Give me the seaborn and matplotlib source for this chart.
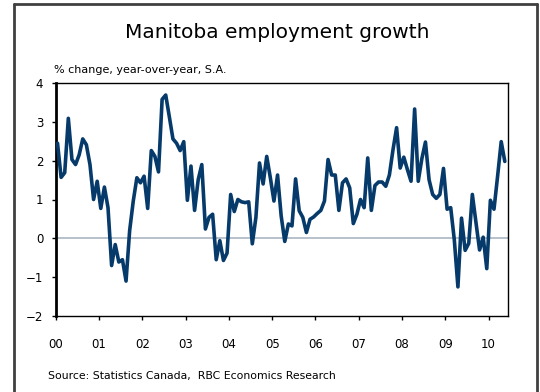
import numpy as np
import pandas as pd
import matplotlib
matplotlib.use("Agg")
import matplotlib.pyplot as plt
import seaborn as sns
from matplotlib.lines import Line2D

# Monthly year-over-year employment growth, Jan 2000 onward (%)
growth = [
    2.45, 1.57, 1.69, 3.09, 2.03, 1.90, 2.15, 2.56, 2.41, 1.90, 1.00, 1.47,
    0.77, 1.32, 0.79, -0.70, -0.16, -0.61, -0.55, -1.10, 0.20, 0.96, 1.56, 1.43,
    1.60, 0.77, 2.26, 2.11, 1.71, 3.58, 3.69, 3.13, 2.56, 2.45, 2.26, 2.49,
    0.98, 1.86, 0.72, 1.51, 1.90, 0.24, 0.54, 0.62, -0.55, -0.06, -0.57, -0.38,
    1.13, 0.69, 1.00, 0.94, 0.92, 0.94, -0.14, 0.54, 1.94, 1.40, 2.11, 1.56,
    0.96, 1.63, 0.58, -0.08, 0.37, 0.32, 1.53, 0.71, 0.54, 0.15, 0.49, 0.55,
    0.64, 0.72, 0.96, 2.03, 1.63, 1.63, 0.72, 1.43, 1.53, 1.30, 0.38, 0.62,
    1.00, 0.79, 2.07, 0.72, 1.36, 1.45, 1.45, 1.34, 1.63, 2.28, 2.85, 1.81,
    2.09, 1.77, 1.47, 3.33, 1.47, 2.05, 2.48, 1.51, 1.13, 1.03, 1.13, 1.80,
    0.75, 0.79, -0.04, -1.25, 0.52, -0.31, -0.13, 1.13, 0.41, -0.30, 0.03, -0.78,
    0.98, 0.75, 1.60, 2.49, 1.98,
]
start_year = 2000
year_ticks = list(range(2000, 2011))
year_labels = ["00", "01", "02", "03", "04", "05", "06", "07", "08", "09", "10"]
y_ticks = [-2, -1, 0, 1, 2, 3, 4]

df = pd.DataFrame({
    "date": [start_year + (i + 0.5) / 12 for i in range(len(growth))],
    "growth": growth,
})

sns.set_style("white")
plt.rcParams["font.family"] = ["DejaVu Sans"]

fig = plt.figure(figsize=(5.40, 3.92), dpi=100)
ax = fig.add_axes([55.7 / 540, (392 - 316) / 392, 452 / 540, 233 / 392])

ax.axhline(0, color="#a9b6c2", lw=1.2, zorder=1)
sns.lineplot(data=df, x="date", y="growth", ax=ax, color="#063a6a",
             lw=2.6, zorder=3)

ax.set_xlim(2000, 2010 + 5.3 / 12)
ax.set_ylim(-2, 4)
ax.set_xticks(year_ticks)
ax.set_xticklabels(year_labels)
ax.set_yticks(y_ticks)
ax.set_xlabel("")
ax.set_ylabel("")

for side in ["top", "right", "bottom"]:
    ax.spines[side].set_color("black")
    ax.spines[side].set_linewidth(1.0)
ax.spines["left"].set_color("black")
ax.spines["left"].set_linewidth(2.0)

ax.tick_params(axis="x", direction="out", length=3, width=1, color="black",
               pad=13, labelsize=8.5, labelcolor="black")
ax.tick_params(axis="y", direction="out", length=3, width=1, color="black",
               pad=6, labelsize=8.5, labelcolor="black")
ax.tick_params(left=True, bottom=True)

fig.text(277 / 540, 1 - 33 / 392, "Manitoba employment growth",
         ha="center", va="center", fontsize=14.5, color="black")
fig.text(54 / 540, 1 - 70 / 392, "% change, year-over-year, S.A.",
         ha="left", va="center", fontsize=8, color="black")
fig.text(48 / 540, 1 - 376 / 392,
         "Source: Statistics Canada,  RBC Economics Research",
         ha="left", va="center", fontsize=7.8, color="black")

# outer frame (open at the bottom)
frame_kw = dict(color="#404040", lw=2.0, transform=fig.transFigure)
fig.add_artist(Line2D([14 / 540, 14 / 540], [0, 1 - 4 / 392], **frame_kw))
fig.add_artist(Line2D([537 / 540, 537 / 540], [0, 1 - 4 / 392], **frame_kw))
fig.add_artist(Line2D([14 / 540, 537 / 540], [1 - 4 / 392, 1 - 4 / 392], **frame_kw))

fig.savefig("out.png", dpi=100)
